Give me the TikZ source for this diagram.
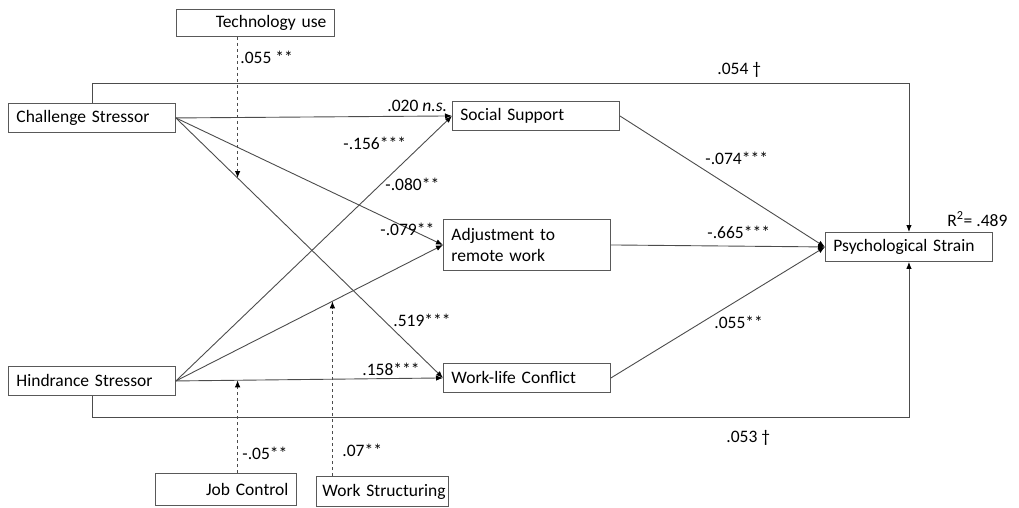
\documentclass[tikz,border=0pt]{standalone}
\usepackage{fontspec}
\setmainfont{Carlito}
\usetikzlibrary{arrows.meta}

\begin{document}
\begin{tikzpicture}[x=1pt, y=-1pt, >={Latex[length=7pt,width=5.5pt,black]}, line width=0.9pt, draw=black!70, font=\fontsize{17.5}{21}\selectfont]
\useasboundingbox (0,0) rectangle (1019,508);
\begin{scope}[every node/.style={draw=black!65, anchor=north west, inner xsep=8pt, inner ysep=0pt, minimum height=29pt, text width=151pt, align=left}]
%stressors
\node (chal) at (8,103) {Challenge Stressor};
\node (hind) at (8,366) {Hindrance Stressor};
%mediators
\node (soc) at (452,101) {Social Support};
\node[minimum height=51pt] (adj) at (443,219) {Adjustment to\\remote work};
\node (wlc) at (443,363) {Work-life Conflict};
%outcome
\node (psy) at (825,232) {Psychological Strain};
%moderators
\node[text width=142pt, minimum height=27pt, align=right] (tech) at (176,9) {Technology use};
\node[text width=125pt, minimum height=32pt, align=right] (jobc) at (155,473) {Job Control};
\node[text width=120pt, inner xsep=6pt, minimum height=30pt] (works) at (316,476) {\mbox{Work Structuring}};
\end{scope}

%stressors to mediators
\draw[->] (chal.east) -- (soc.west);
\draw[->] (chal.east) -- (adj.west);
\draw[->] (chal.east) -- coordinate[pos=0.231] (techhit) (wlc.west);
\draw[->] (hind.east) -- (soc.west);
\draw[->] (hind.east) -- coordinate[pos=0.586] (workhit) (adj.west);
\draw[->] (hind.east) -- coordinate[pos=0.231] (jobhit) (wlc.west);
%mediators to strain
\draw[->] (soc.east) -- (psy.west);
\draw[->] (adj.east) -- (psy.west);
\draw[->] (wlc.east) -- (psy.west);
%direct effects
\draw[->] (chal.north) -- ++(0,-20) -| (psy.north);
\draw[->] (hind.south) -- ++(0,22) -| (psy.south);
%moderation
\draw[->, dashed] (techhit |- tech.south) -- (techhit);
\draw[->, dashed] (jobhit |- jobc.north) -- (jobhit);
\draw[->, dashed] (workhit |- works.north) -- (workhit);

%labels
\begin{scope}[every node/.style={anchor=west, inner sep=0pt}]
\node at (240,57) {.055 **};
\node at (717,70) {.054 \textdagger};
\node at (387,106) {.020 \textit{n.s.}};
\node at (343,143) {-.156***};
\node at (385,184) {-.080**};
\node at (380,229) {-.079**};
\node at (393,320) {.519***};
\node at (362,369) {.158***};
\node at (705,158) {-.074***};
\node at (707,232) {-.665***};
\node at (714,322) {.055**};
\node at (726,438) {.053 \textdagger};
\node at (242,453) {-.05**};
\node at (342,450) {.07**};
\node at (947,219) {R\textsuperscript{2}= .489};
\end{scope}
\end{tikzpicture}
\end{document}
